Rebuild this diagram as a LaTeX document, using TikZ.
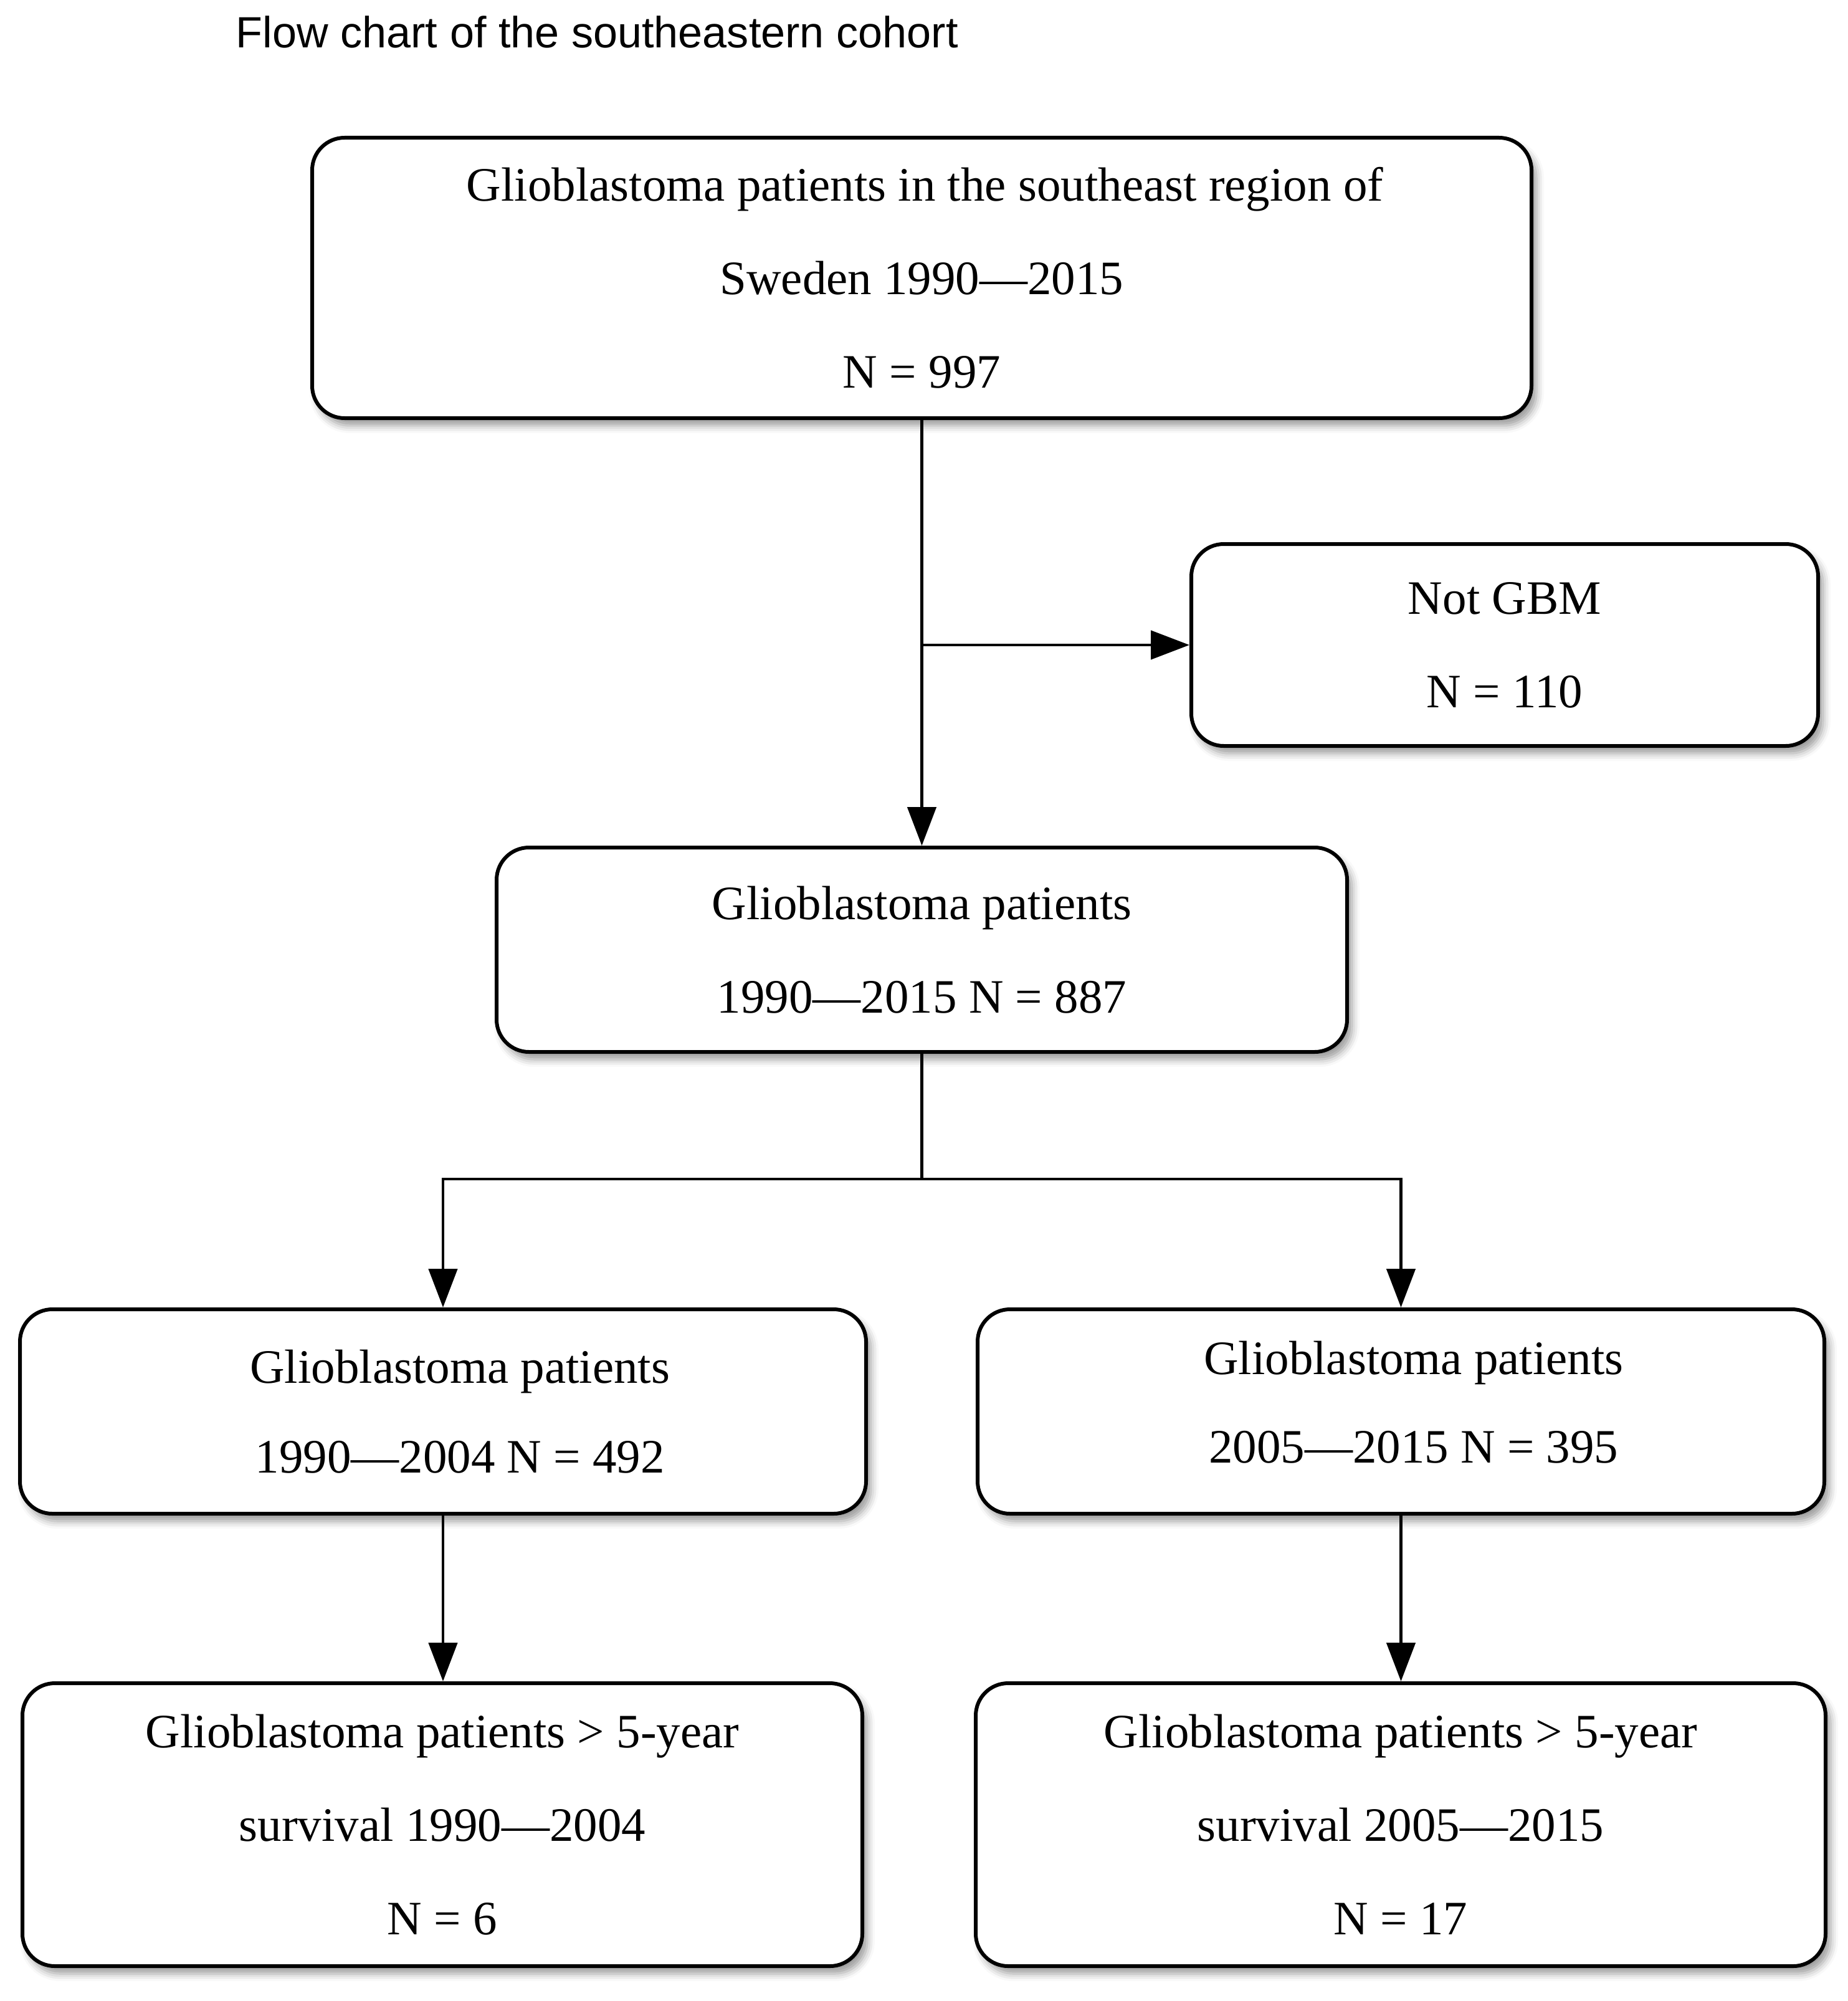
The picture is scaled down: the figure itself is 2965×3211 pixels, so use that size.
\documentclass[tikz,border=0pt]{standalone}
\usepackage{fontspec}
\setmainfont{Liberation Serif}
\newfontfamily\titlefont{Liberation Sans}
\usetikzlibrary{arrows.meta,shadows.blur,calc}
\begin{document}
\begin{tikzpicture}[x=0.25pt,y=-0.25pt,
  box/.style={draw=black, line width=1.5pt, rounded corners=13pt, fill=white,
    inner sep=0pt, align=center, font=\fontsize{19.25pt}{37.5pt}\selectfont,
    blur shadow={shadow xshift=2pt, shadow yshift=-3pt, shadow blur radius=3pt, shadow opacity=40}},
  conn/.style={line width=1.2pt, line join=miter},
  arr/.style={conn, -{Triangle[length=15.5pt,width=11.5pt]}}]
\useasboundingbox (0,0) rectangle (2965,3211);

\node[anchor=base west, inner sep=0pt, font=\titlefont\fontsize{17.55pt}{20pt}\selectfont] (title) at (378,77) {Flow chart of the southeastern cohort};

\node[box, minimum width=489.25pt, minimum height=112.5pt] (b1) at (1479.5,446)
  {\hspace*{2.5pt}Glioblastoma patients in the southeast region of\\Sweden 1990—2015\\N = 997};
\node[box, minimum width=251.5pt, minimum height=81pt] (b2) at (2415,1035)
  {Not GBM\\N = 110};
\node[box, minimum width=341.25pt, minimum height=82pt] (b3) at (1479.5,1524)
  {Glioblastoma patients\\1990—2015 N = 887};
\node[box, minimum width=339.5pt, minimum height=82pt, font=\fontsize{19.25pt}{36pt}\selectfont] (b4) at (711,2265)
  {\hspace*{13.6pt}Glioblastoma patients\\\hspace*{13.6pt}1990—2004 N = 492};
\node[box, minimum width=339.75pt, minimum height=82pt, font=\fontsize{19.25pt}{35.5pt}\selectfont, text depth=7.5pt] (b5) at (2248.5,2265)
  {\hspace*{10.2pt}Glioblastoma patients\\\hspace*{10.2pt}2005—2015 N = 395};
\node[box, minimum width=337pt, minimum height=113.5pt] (b6) at (710,2928)
  {Glioblastoma patients > 5-year\\survival 1990—2004\\N = 6};
\node[box, minimum width=341pt, minimum height=113.5pt] (b7) at (2248,2928)
  {Glioblastoma patients > 5-year\\survival 2005—2015\\N = 17};

\draw[arr] (b1.south) -- (b3.north);
\coordinate (j1) at (b1.south |- b2.west);
\draw[arr] (j1) -- (b2.west);
\coordinate (fork) at (1479.5,1892);
\draw[conn] (b3.south) -- (fork);
\draw[arr] (fork) -| (b4.north);
\draw[arr] (fork) -| (b5.north);
\draw[arr] (b4.south) -- (b4.south |- b6.north);
\draw[arr] (b5.south) -- (b5.south |- b7.north);
\end{tikzpicture}
\end{document}
